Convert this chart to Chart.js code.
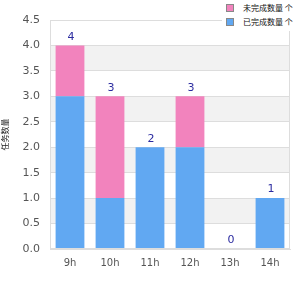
<!DOCTYPE html>
<html><head><meta charset="utf-8">
<script src="https://cdn.jsdelivr.net/npm/chart.js@4/dist/chart.umd.min.js"></script>
<style>
html,body{margin:0;padding:0;background:#fff;}
#wrap{position:relative;width:300px;height:300px;}
#legend{position:absolute;left:222px;top:0px;width:78px;height:31px;background:#fff;font-family:"Noto Sans CJK SC","DejaVu Sans",sans-serif;font-size:8px;color:#111;}
.item{position:absolute;left:4px;height:10px;line-height:10px;white-space:nowrap;}
.sw{position:absolute;left:0;top:1px;width:6px;height:6px;border:1px solid #888;}
.tx{position:absolute;left:17px;top:0;}
</style>
</head><body>
<div id="wrap"><canvas id="c" width="300" height="300"></canvas><div id="legend"></div></div>
<script>
const categories = ["9h","10h","11h","12h","13h","14h"];
const doneValues = [3,1,2,2,0,1];
const todoValues = [1,2,0,1,0,0];
const seriesNames = ["已完成数量 个","未完成数量 个"];
const yTitle = "任务数量";
const blue = "#61a8f2", pink = "#f283bd";

const legendItems = [{name: seriesNames[1], color: pink},{name: seriesNames[0], color: blue}];
const lg = document.getElementById('legend');
legendItems.forEach((it,i)=>{
  const d=document.createElement('div'); d.className='item'; d.style.top=(3+i*14)+'px';
  const s=document.createElement('span'); s.className='sw'; s.style.background=it.color;
  const t=document.createElement('span'); t.className='tx'; t.textContent=it.name;
  d.appendChild(s); d.appendChild(t); lg.appendChild(d);
});

const bands = {
  id:'bands',
  beforeDraw(chart){
    const {ctx, chartArea:a, scales:{y}} = chart;
    ctx.save();
    ctx.fillStyle='#fff'; ctx.fillRect(0,0,chart.width,chart.height);
    ctx.fillStyle='#f2f2f2';
    for(let v=0.5; v<4.5; v+=1){
      const t=y.getPixelForValue(v+0.5), b=y.getPixelForValue(v);
      ctx.fillRect(a.left,t,a.right-a.left,b-t);
    }
    ctx.restore();
  },
  afterDatasetsDraw(chart){
    const {ctx, chartArea:a, scales:{x,y}} = chart;
    ctx.save();
    ctx.strokeStyle='#dddddd'; ctx.lineWidth=1;
    ctx.strokeRect(a.left+0.5,a.top+0.5,a.right-a.left-1,a.bottom-a.top-1);
    ctx.fillStyle='#2b2ba0'; ctx.font='11px "DejaVu Sans", sans-serif';
    ctx.textAlign='center'; ctx.textBaseline='bottom';
    categories.forEach((c,i)=>{
      const tot=doneValues[i]+todoValues[i];
      ctx.fillText(String(tot), x.getPixelForValue(i)+1, y.getPixelForValue(tot)-3);
    });
    ctx.restore();
  }
};

new Chart(document.getElementById('c'),{
  type:'bar',
  data:{labels:categories,datasets:[
    {label:seriesNames[0],data:doneValues,backgroundColor:blue,barPercentage:0.9,categoryPercentage:0.8},
    {label:seriesNames[1],data:todoValues,backgroundColor:pink,barPercentage:0.9,categoryPercentage:0.8}
  ]},
  options:{
    responsive:false,animation:false,
    layout:{padding:{top:20,right:10,left:0,bottom:0}},
    plugins:{legend:{display:false},tooltip:{enabled:false}},
    scales:{
      x:{stacked:true,grid:{display:false,drawTicks:false},border:{color:'#dddddd'},
        ticks:{color:'#555',padding:8,font:{family:'DejaVu Sans',size:10}},
        afterFit(s){s.height=51;}},
      y:{stacked:true,min:0,max:4.5,
        grid:{color:'#dddddd',drawTicks:false},border:{color:'#dddddd'},
        ticks:{stepSize:0.5,color:'#555',padding:10,font:{family:'DejaVu Sans',size:11},callback:v=>v.toFixed(1)},
        title:{display:true,text:yTitle,color:'#222',font:{family:'"Noto Sans CJK SC"',size:8},padding:{top:0,bottom:0}},
        afterFit(s){s.width=50;}}
    }
  },
  plugins:[bands]
});
</script>
</body></html>
